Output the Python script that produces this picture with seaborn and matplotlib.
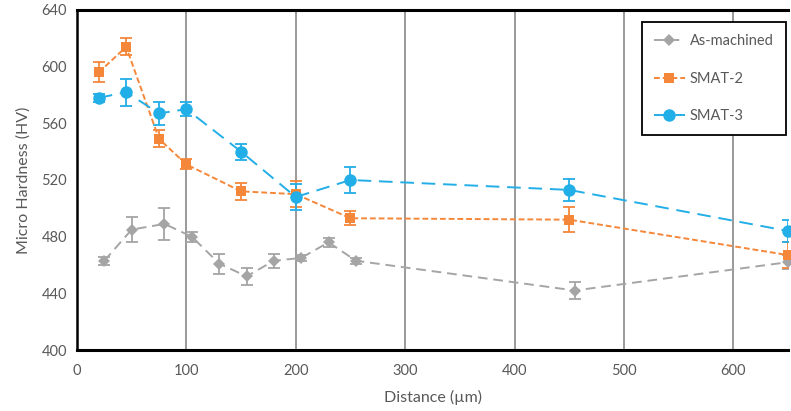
import numpy as np
import pandas as pd
import matplotlib
matplotlib.use("Agg")
import matplotlib.pyplot as plt
import seaborn as sns

# Data
x_asm = [25, 50, 80, 105, 130, 155, 180, 205, 230, 255, 455, 650]
y_asm = [463, 485, 489, 480, 461, 452, 463, 465, 476, 463, 442, 462]
e_asm = [3, 9, 11, 3.5, 7, 6, 5, 2, 3, 2, 6, 5]

x_s2 = [20, 45, 75, 100, 150, 200, 250, 450, 650]
y_s2 = [596, 614, 549, 531, 512, 510, 493, 492, 467]
e_s2 = [7, 6, 6, 3.5, 6, 9, 5, 9, 9]

x_s3 = [20, 45, 75, 100, 150, 200, 250, 450, 650]
y_s3 = [578, 582, 567, 570, 540, 508, 520, 513, 484]
e_s3 = [3, 9.5, 8, 5, 5.6, 9, 9.4, 7.6, 8]

series = ["As-machined", "SMAT-2", "SMAT-3"]
colors = {"As-machined": "#A5A5A5", "SMAT-2": "#F5873A", "SMAT-3": "#22AEE6"}
markers = {"As-machined": "D", "SMAT-2": "s", "SMAT-3": "o"}
msizes = {"As-machined": 6, "SMAT-2": 7, "SMAT-3": 9}
dashes = {"As-machined": (5, 3), "SMAT-2": (3, 1.5), "SMAT-3": (7, 4)}
xticks = [0, 100, 200, 300, 400, 500, 600]
yticks = [400, 440, 480, 520, 560, 600, 640]

df = pd.concat([
    pd.DataFrame({"Distance": x_asm, "HV": y_asm, "err": e_asm, "Series": series[0]}),
    pd.DataFrame({"Distance": x_s2, "HV": y_s2, "err": e_s2, "Series": series[1]}),
    pd.DataFrame({"Distance": x_s3, "HV": y_s3, "err": e_s3, "Series": series[2]}),
], ignore_index=True)

sns.set_style("white")
plt.rcParams["font.family"] = ["Lato", "DejaVu Sans"]

fig = plt.figure(figsize=(7.91, 4.11), dpi=100)
ax = fig.add_axes([0.0973, 0.1484, 0.899, 0.8273])

for s in series:
    d = df[df["Series"] == s]
    ax.errorbar(d["Distance"], d["HV"], yerr=d["err"], fmt="none",
                ecolor=colors[s], elinewidth=1.3, capsize=4, capthick=1.3, zorder=3)

for s in series:
    d = df[df["Series"] == s]
    sns.lineplot(data=d, x="Distance", y="HV", ax=ax, color=colors[s],
                 marker=markers[s], markersize=msizes[s], markeredgewidth=0,
                 linewidth=1.4, dashes=False, label=s, zorder=4, clip_on=False)
    ax.lines[-1].set_dashes(dashes[s])

ax.set_xlim(0, 650)
ax.set_ylim(400, 640)
ax.set_xticks(xticks)
ax.set_yticks(yticks)
ax.xaxis.grid(True, color="#9A9A9A", linewidth=1.4)
ax.yaxis.grid(False)
ax.set_axisbelow(True)

for side in ["top", "left", "bottom"]:
    ax.spines[side].set_color("black")
ax.spines["top"].set_linewidth(2.2)
ax.spines["left"].set_linewidth(1.8)
ax.spines["bottom"].set_linewidth(2.2)
ax.spines["right"].set_visible(False)

ax.tick_params(axis="both", colors="#595959", labelsize=10.5)
ax.tick_params(axis="y", direction="out", length=4, width=1, color="black", pad=3)
ax.tick_params(axis="x", direction="in", length=3, width=1.5, color="black", pad=10)

ax.set_xlabel("Distance (µm)", color="#595959", fontsize=11.5, labelpad=9)
ax.set_ylabel("Micro Hardness (HV)", color="#595959", fontsize=11.5, labelpad=8)

leg = ax.legend(loc="upper right", bbox_to_anchor=(0.997, 0.965), frameon=True,
                fancybox=False, edgecolor="black", framealpha=1,
                fontsize=10.5, labelspacing=1.6, handlelength=2.1,
                borderpad=0.85, handletextpad=0.35, borderaxespad=0)
leg.get_frame().set_linewidth(1.3)
for t in leg.get_texts():
    t.set_color("#595959")

fig.savefig("out.png", dpi=100)
